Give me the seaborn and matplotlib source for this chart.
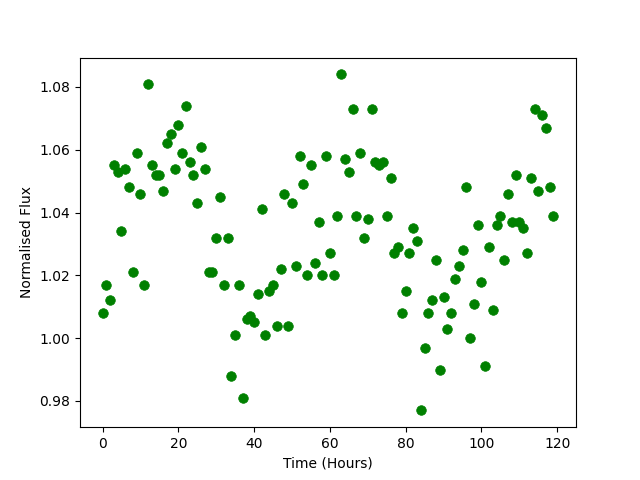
import matplotlib
matplotlib.use("Agg")
import matplotlib.pyplot as plt
import seaborn as sns
import numpy as np

# time in hours, one reading per hour
time_hours = np.arange(120)

flux = [
    1.008, 1.017, 1.012, 1.055, 1.053, 1.034, 1.054, 1.048, 1.021, 1.059,
    1.046, 1.017, 1.081, 1.055, 1.052, 1.052, 1.047, 1.062, 1.065, 1.054,
    1.068, 1.059, 1.074, 1.056, 1.052, 1.043, 1.061, 1.054, 1.021, 1.021,
    1.032, 1.045, 1.017, 1.032, 0.988, 1.001, 1.017, 0.981, 1.006, 1.007,
    1.005, 1.014, 1.041, 1.001, 1.015, 1.017, 1.004, 1.022, 1.046, 1.004,
    1.043, 1.023, 1.058, 1.049, 1.020, 1.055, 1.024, 1.037, 1.020, 1.058,
    1.027, 1.020, 1.039, 1.084, 1.057, 1.053, 1.073, 1.039, 1.059, 1.032,
    1.038, 1.073, 1.056, 1.055, 1.056, 1.039, 1.051, 1.027, 1.029, 1.008,
    1.015, 1.027, 1.035, 1.031, 0.977, 0.997, 1.008, 1.012, 1.025, 0.990,
    1.013, 1.003, 1.008, 1.019, 1.023, 1.028, 1.048, 1.000, 1.011, 1.036,
    1.018, 0.991, 1.029, 1.009, 1.036, 1.039, 1.025, 1.046, 1.037, 1.052,
    1.037, 1.035, 1.027, 1.051, 1.073, 1.047, 1.071, 1.067, 1.048, 1.039,
]

fig, ax = plt.subplots(figsize=(6.4, 4.8), dpi=100)
sns.scatterplot(x=time_hours, y=flux, color='green', s=48, edgecolor='green',
                linewidth=0.5, ax=ax)
ax.set_xlabel("Time (Hours)")
ax.set_ylabel("Normalised Flux")
fig.savefig("out.png", dpi=100)
